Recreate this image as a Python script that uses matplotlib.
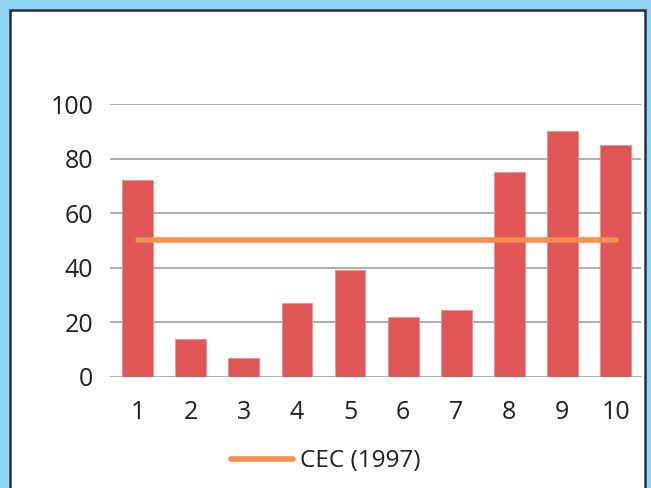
import matplotlib.pyplot as plt
from matplotlib.patches import Rectangle

# Datos del gráfico
categorias = [1, 2, 3, 4, 5, 6, 7, 8, 9, 10]
valores = [72, 14, 7, 27, 39, 22, 24.5, 75, 90, 85]
cec_valor = 50
cec_etiqueta = 'CEC (1997)'
y_ticks = [0, 20, 40, 60, 80, 100]

plt.rcParams['font.family'] = ['Open Sans', 'DejaVu Sans']

fig = plt.figure(figsize=(6.51, 4.88), dpi=100)
fig.patch.set_facecolor('#8fd4f2')

# Marco blanco con borde oscuro
marco = Rectangle((10 / 651, -0.05), 635 / 651, 1.05 - 10 / 488,
                  transform=fig.transFigure, facecolor='white',
                  edgecolor='#2b3035', linewidth=1.8, zorder=-1)
fig.patches.append(marco)

ax = fig.add_axes([110 / 651, 111.3 / 488, 531 / 651, 272.7 / 488])
ax.set_facecolor('none')

ax.bar(categorias, valores, width=0.58, color='#e05656',
       edgecolor='#f28f8f', linewidth=0.6, zorder=3)
linea, = ax.plot([categorias[0], categorias[-1]], [cec_valor, cec_valor],
                 color='#f78f4f', linewidth=4, solid_capstyle='round',
                 zorder=4, label=cec_etiqueta)

ax.set_xlim(0.48, 10.48)
ax.set_ylim(0, 100)
ax.set_yticks(y_ticks)
ax.set_xticks(categorias)
ax.yaxis.grid(True, color='#a0a0a4', linewidth=1.2, zorder=1)
ax.set_axisbelow(True)
for s in ax.spines.values():
    s.set_visible(False)
ax.tick_params(axis='both', length=0, labelsize=18, colors='#231f20')
ax.tick_params(axis='y', pad=12)
ax.tick_params(axis='x', pad=17)

fig.legend(handles=[linea], loc='center', bbox_to_anchor=(0.5, 0.055),
           frameon=False, fontsize=17.5, handlelength=2.55,
           handletextpad=0.3, labelcolor='#231f20')

fig.savefig('out.png', dpi=100, facecolor=fig.get_facecolor())
